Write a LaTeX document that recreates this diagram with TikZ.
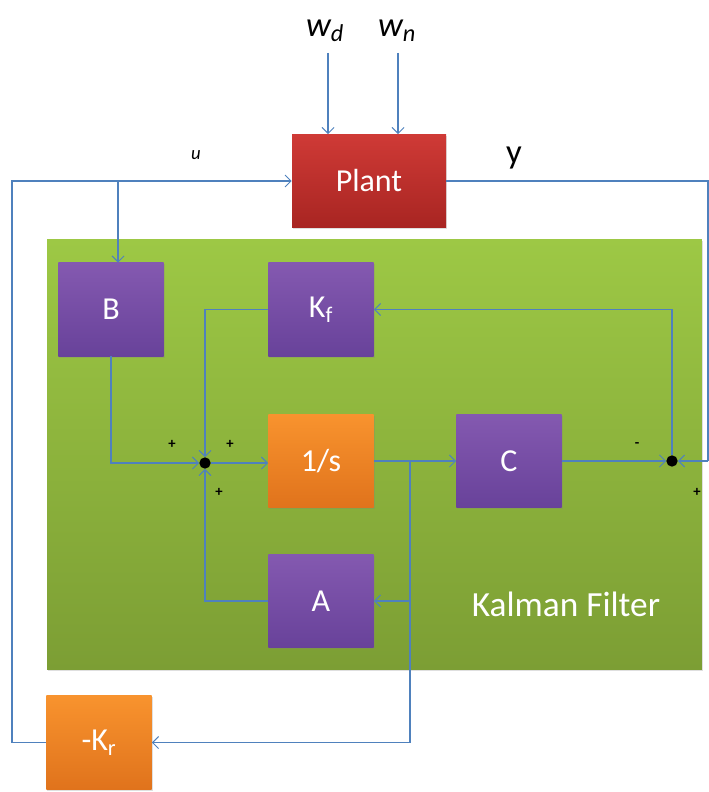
\documentclass[tikz,border=0pt]{standalone}
\usepackage{fontspec}
\setmainfont{Carlito}
\usetikzlibrary{arrows.meta,shadows}
\definecolor{wirec}{HTML}{4F81BD}
\definecolor{purpT}{HTML}{8459B0}
\definecolor{purpB}{HTML}{68429A}
\definecolor{orT}{HTML}{F8932E}
\definecolor{orB}{HTML}{E0731C}
\definecolor{redT}{HTML}{CF3A36}
\definecolor{redB}{HTML}{A82522}
\definecolor{grT}{HTML}{9DC845}
\definecolor{grB}{HTML}{7C9E34}
\begin{document}
\begin{tikzpicture}[x=0.75pt,y=-0.75pt,
  shad/.style={drop shadow={opacity=0.25,shadow xshift=0.8pt,shadow yshift=-1.2pt}},
  blk/.style={shad,minimum width=79pt,minimum height=70pt,inner sep=0pt,text=white,
    font=\fontsize{24}{28}\selectfont},
  purp/.style={blk,top color=purpT,bottom color=purpB},
  oran/.style={blk,top color=orT,bottom color=orB},
  wire/.style={draw=wirec,line width=0.8pt},
  arr/.style={wire,-{Straight Barb[length=4.5pt,width=9pt,line width=0.7pt]}},
  sumdot/.style={circle,fill=black,minimum size=8.5pt,inner sep=0pt},
  sign/.style={font=\fontsize{11}{12}\selectfont\bfseries,inner sep=0pt},
  sig/.style={font=\fontsize{26}{30}\selectfont,inner sep=0pt}]
\useasboundingbox (0,0) rectangle (709,792);
% Kalman filter area
\node[shad,minimum width=491pt,minimum height=323pt,inner sep=0pt,top color=grT,bottom color=grB] (kal) at (374.5,454.5) {};
\node[text=white,font=\fontsize{26.5}{30}\selectfont] (kallab) at (566,604) {Kalman Filter};
% blocks
\node[blk,minimum width=115.5pt,top color=redT,bottom color=redB] (plant) at (369,181) {Plant};
\node[purp] (B) at (111,309.5) {B};
\node[purp] (Kf) at (321,309.5) {K\textsubscript{f}};
\node[oran] (integ) at (321,461) {1/s};
\node[purp] (C) at (509,461) {C};
\node[purp] (A) at (321,601) {A};
\node[oran] (Kr) at (99,742.5) {-K\textsubscript{r}};
\node[sumdot] (sum1) at (205,463) {};
\node[sumdot] (sum2) at (672,461) {};
% labels
\node[sig] (wd) at (325,31) {\itshape w\textsubscript{d}};
\node[sig] (wn) at (397,31) {\itshape w\textsubscript{n}};
\node[font=\fontsize{14}{16}\selectfont\itshape] (ulab) at (196,155) {u};
\node[sig] (ylab) at (514,158) {y};
\node[sign] (p1) at (172,444) {+};
\node[sign] (p2) at (230,444) {+};
\node[sign] (p3) at (219,492) {+};
\node[sign] (m4) at (637,445) {-};
\node[sign] (p5) at (697,492) {+};
% coordinates
\coordinate (wdtop) at (328,53);
\coordinate (wntop) at (398,53);
\coordinate (ul) at (12,181);
\coordinate (ub) at (118,181);
\coordinate (yc) at (708,181);
\coordinate (ycd) at (708,461);
\coordinate (br) at (410,461);
% connectors
\draw[arr] (wdtop) -- (wdtop |- plant.north);
\draw[arr] (wntop) -- (wntop |- plant.north);
\draw[arr] (Kr.west) -| (ul) -- (plant.west);
\draw[arr] (ub) -- (ub |- B.north);
\draw[wire] (plant.east) -- (yc) -- (ycd);
\draw[arr] (ycd) -- (sum2);
\draw[arr] (B.south) |- (sum1);
\draw[arr] (Kf.west) -| (sum1);
\draw[arr] (A.west) -| (sum1);
\draw[arr] (sum1) -- (sum1 -| integ.west);
\draw[arr] (integ.east) -- (C.west);
\draw[arr] (br |- A.east) -- (A.east);
\draw[arr] (br) -- (br |- Kr.east) -- (Kr.east);
\draw[arr] (C.east) -- (sum2);
\draw[arr] (sum2) |- (Kf.east);
\end{tikzpicture}
\end{document}
